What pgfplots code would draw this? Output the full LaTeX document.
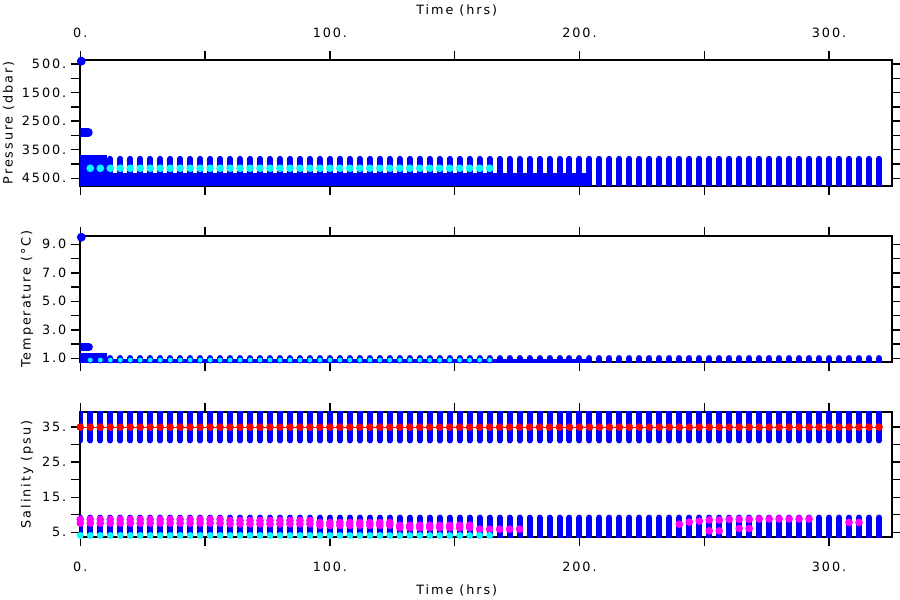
\documentclass[border=0pt]{standalone}
\usepackage{pgfplots}
\pgfplotsset{compat=1.18}
\usepackage{pgfplotstable}
\usepackage{fontspec}
\setmainfont{DejaVu Sans}[LetterSpace=15]
\definecolor{fblue}{RGB}{0,0,255}
\definecolor{fcyan}{RGB}{0,255,255}
\definecolor{fmag}{RGB}{255,0,255}
\definecolor{fred}{RGB}{255,0,0}

% profile bars: t, pressure bar (mid,half), temperature bar, salinity upper bar, salinity lower bar
\pgfplotstableread{
t pm pe tm te um ue lm le
0 4060 240 0.76 0.26 36.1 4.9 5.6 3.6
4 4060 240 0.76 0.26 36.1 4.9 5.6 3.6
8 4060 240 0.76 0.26 36.1 4.9 5.6 3.6
12 4060 240 0.76 0.26 36.1 4.9 5.6 3.6
16 4060 240 0.76 0.26 36.1 4.9 5.6 3.6
20 4060 240 0.76 0.26 36.1 4.9 5.6 3.6
24 4060 240 0.76 0.26 36.1 4.9 5.6 3.6
28 4060 240 0.76 0.26 36.1 4.9 5.6 3.6
32 4060 240 0.76 0.26 36.1 4.9 5.6 3.6
36 4060 240 0.76 0.26 36.1 4.9 5.6 3.6
40 4060 240 0.76 0.26 36.1 4.9 5.6 3.6
44 4060 240 0.76 0.26 36.1 4.9 5.6 3.6
48 4060 240 0.76 0.26 36.1 4.9 5.6 3.6
52 4060 240 0.76 0.26 36.1 4.9 5.6 3.6
56 4060 240 0.76 0.26 36.1 4.9 5.6 3.6
60 4060 240 0.76 0.26 36.1 4.9 5.6 3.6
64 4060 240 0.76 0.26 36.1 4.9 5.6 3.6
68 4060 240 0.76 0.26 36.1 4.9 5.6 3.6
72 4060 240 0.76 0.26 36.1 4.9 5.6 3.6
76 4060 240 0.76 0.26 36.1 4.9 5.6 3.6
80 4060 240 0.76 0.26 36.1 4.9 5.6 3.6
84 4060 240 0.76 0.26 36.1 4.9 5.6 3.6
88 4060 240 0.76 0.26 36.1 4.9 5.6 3.6
92 4060 240 0.76 0.26 36.1 4.9 5.6 3.6
96 4060 240 0.76 0.26 36.1 4.9 5.6 3.6
100 4060 240 0.76 0.26 36.1 4.9 5.6 3.6
104 4060 240 0.76 0.26 36.1 4.9 5.6 3.6
108 4060 240 0.76 0.26 36.1 4.9 5.6 3.6
112 4060 240 0.76 0.26 36.1 4.9 5.6 3.6
116 4060 240 0.76 0.26 36.1 4.9 5.6 3.6
120 4060 240 0.76 0.26 36.1 4.9 5.6 3.6
124 4060 240 0.76 0.26 36.1 4.9 5.6 3.6
128 4060 240 0.76 0.26 36.1 4.9 5.6 3.6
132 4060 240 0.76 0.26 36.1 4.9 5.6 3.6
136 4060 240 0.76 0.26 36.1 4.9 5.6 3.6
140 4060 240 0.76 0.26 36.1 4.9 5.6 3.6
144 4060 240 0.76 0.26 36.1 4.9 5.6 3.6
148 4060 240 0.76 0.26 36.1 4.9 5.6 3.6
152 4060 240 0.76 0.26 36.1 4.9 5.6 3.6
156 4060 240 0.76 0.26 36.1 4.9 5.6 3.6
160 4060 240 0.76 0.26 36.1 4.9 5.6 3.6
164 4060 240 0.76 0.26 36.1 4.9 5.6 3.6
168 4060 240 0.76 0.26 36.1 4.9 5.6 3.6
172 4060 240 0.76 0.26 36.1 4.9 5.6 3.6
176 4060 240 0.76 0.26 36.1 4.9 5.6 3.6
180 4060 240 0.76 0.26 36.1 4.9 5.6 3.6
184 4060 240 0.76 0.26 36.1 4.9 5.6 3.6
188 4060 240 0.76 0.26 36.1 4.9 5.6 3.6
192 4060 240 0.76 0.26 36.1 4.9 5.6 3.6
196 4060 240 0.76 0.26 36.1 4.9 5.6 3.6
200 4060 240 0.76 0.26 36.1 4.9 5.6 3.6
204 4310 490 0.76 0.26 36.1 4.9 5.6 3.6
208 4310 490 0.76 0.26 36.1 4.9 5.6 3.6
212 4310 490 0.76 0.26 36.1 4.9 5.6 3.6
216 4310 490 0.76 0.26 36.1 4.9 5.6 3.6
220 4310 490 0.76 0.26 36.1 4.9 5.6 3.6
224 4310 490 0.76 0.26 36.1 4.9 5.6 3.6
228 4310 490 0.76 0.26 36.1 4.9 5.6 3.6
232 4310 490 0.76 0.26 36.1 4.9 5.6 3.6
236 4310 490 0.76 0.26 36.1 4.9 5.6 3.6
240 4310 490 0.76 0.26 36.1 4.9 5.6 3.6
244 4310 490 0.76 0.26 36.1 4.9 5.6 3.6
248 4310 490 0.76 0.26 36.1 4.9 5.6 3.6
252 4310 490 0.76 0.26 36.1 4.9 5.6 3.6
256 4310 490 0.76 0.26 36.1 4.9 5.6 3.6
260 4310 490 0.76 0.26 36.1 4.9 5.6 3.6
264 4310 490 0.76 0.26 36.1 4.9 5.6 3.6
268 4310 490 0.76 0.26 36.1 4.9 5.6 3.6
272 4310 490 0.76 0.26 36.1 4.9 5.6 3.6
276 4310 490 0.76 0.26 36.1 4.9 5.6 3.6
280 4310 490 0.76 0.26 36.1 4.9 5.6 3.6
284 4310 490 0.76 0.26 36.1 4.9 5.6 3.6
288 4310 490 0.76 0.26 36.1 4.9 5.6 3.6
292 4310 490 0.76 0.26 36.1 4.9 5.6 3.6
296 4310 490 0.76 0.26 36.1 4.9 5.6 3.6
300 4310 490 0.76 0.26 36.1 4.9 5.6 3.6
304 4310 490 0.76 0.26 36.1 4.9 5.6 3.6
308 4310 490 0.76 0.26 36.1 4.9 5.6 3.6
312 4310 490 0.76 0.26 36.1 4.9 5.6 3.6
316 4310 490 0.76 0.26 36.1 4.9 5.6 3.6
320 4310 490 0.76 0.26 36.1 4.9 5.6 3.6
}\bars

% single-level samples: cyan pressure, cyan temperature, cyan salinity, red salinity, magenta salinity (two levels)
\pgfplotstableread{
t cp ct cs red mu ml
0 nan nan 4.1 35 8.7 7.6
4 4150 0.88 4.1 35 8.7 7.6
8 4150 0.88 4.1 35 8.7 7.6
12 4150 0.88 4.1 35 8.7 7.6
16 4150 0.88 4.1 35 8.7 7.6
20 4150 0.88 4.1 35 8.7 7.6
24 4150 0.88 4.1 35 8.7 7.6
28 4150 0.88 4.1 35 8.7 7.6
32 4150 0.88 4.1 35 8.7 7.6
36 4150 0.88 4.1 35 8.7 7.6
40 4150 0.88 4.1 35 8.7 7.6
44 4150 0.88 4.1 35 8.7 7.6
48 4150 0.88 4.1 35 8.7 7.6
52 4150 0.88 4.1 35 8.7 7.6
56 4150 0.88 4.1 35 8.7 7.6
60 4150 0.88 4.1 35 8.4 7.4
64 4150 0.88 4.1 35 8.4 7.4
68 4150 0.88 4.1 35 8.4 7.4
72 4150 0.88 4.1 35 8.4 7.4
76 4150 0.88 4.1 35 8.4 7.4
80 4150 0.88 4.1 35 8.4 7.4
84 4150 0.88 4.1 35 8.4 7.4
88 4150 0.88 4.1 35 8.4 7.4
92 4150 0.88 4.1 35 8.4 7.4
96 4150 0.88 4.1 35 7.8 7.0
100 4150 0.88 4.1 35 7.8 7.0
104 4150 0.88 4.1 35 7.8 7.0
108 4150 0.88 4.1 35 7.8 7.0
112 4150 0.88 4.1 35 7.8 7.0
116 4150 0.88 4.1 35 7.8 7.0
120 4150 0.88 4.1 35 7.8 7.0
124 4150 0.88 4.1 35 7.8 7.0
128 4150 0.88 4.1 35 7.0 6.3
132 4150 0.88 4.1 35 7.0 6.3
136 4150 0.88 4.1 35 7.0 6.3
140 4150 0.88 4.1 35 7.0 6.3
144 4150 0.88 4.1 35 7.0 6.3
148 4150 0.88 4.1 35 7.0 6.3
152 4150 0.88 4.1 35 7.0 6.3
156 4150 0.88 4.1 35 7.0 6.3
160 4150 0.88 4.1 35 5.9 nan
164 4150 0.88 4.1 35 5.9 nan
168 nan nan nan 35 5.9 nan
172 nan nan nan 35 5.9 nan
176 nan nan nan 35 5.9 nan
180 nan nan nan 35 nan nan
184 nan nan nan 35 nan nan
188 nan nan nan 35 nan nan
192 nan nan nan 35 nan nan
196 nan nan nan 35 nan nan
200 nan nan nan 35 nan nan
204 nan nan nan 35 nan nan
208 nan nan nan 35 nan nan
212 nan nan nan 35 nan nan
216 nan nan nan 35 nan nan
220 nan nan nan 35 nan nan
224 nan nan nan 35 nan nan
228 nan nan nan 35 nan nan
232 nan nan nan 35 nan nan
236 nan nan nan 35 nan nan
240 nan nan nan 35 7.3 nan
244 nan nan nan 35 7.9 nan
248 nan nan nan 35 8.2 nan
252 nan nan nan 35 8.5 5.4
256 nan nan nan 35 8.5 5.4
260 nan nan nan 35 8.7 nan
264 nan nan nan 35 8.7 6.1
268 nan nan nan 35 8.7 6.1
272 nan nan nan 35 8.8 nan
276 nan nan nan 35 8.8 nan
280 nan nan nan 35 8.8 nan
284 nan nan nan 35 8.8 nan
288 nan nan nan 35 8.8 nan
292 nan nan nan 35 8.8 nan
296 nan nan nan 35 nan nan
300 nan nan nan 35 nan nan
304 nan nan nan 35 nan nan
308 nan nan nan 35 7.8 nan
312 nan nan nan 35 7.8 nan
316 nan nan nan 35 nan nan
320 nan nan nan 35 nan nan
}\dots

\pgfplotsset{
  ferret/.style={
    scale only axis, width=405.7pt, anchor=north west,
    xmin=0, xmax=325.1,
    xtick={0,100,200,300}, minor xtick={50,150,250},
    tick align=outside, major tick length=4.4pt, minor tick length=4.4pt,
    axis line style={line width=1pt, black},
    tick style={black, line width=0.7pt},
    yticklabel style={xshift=-0.3pt},
    ylabel style={anchor=center},
  },
  barstyle/.style={draw=none, mark=none, forget plot,
    error bars/.cd, y dir=both, y explicit, error mark=none,
    error bar style={draw=fblue, line width=3pt, line cap=round}},
}

\begin{document}
\fontsize{6.4pt}{7.7pt}\selectfont
\begin{tikzpicture}
\useasboundingbox (0,0) rectangle (450pt,-300pt);

% ---------------- Pressure ----------------
\begin{axis}[ferret, at={(40.15pt,-29.85pt)}, height=63pt,
  ymin=350, ymax=4760, y dir=reverse,
  ytick={500,1500,2500,3500,4500}, yticklabels={500.,1500.,2500.,3500.,4500.},
  minor ytick={1000,2000,3000,4000},
  xticklabel pos=upper, xticklabels={0.,100.,200.,300.},
  xticklabel style={yshift=4.5pt},
  xlabel={Time (hrs)},
  xlabel style={at={(axis description cs:0.464,1)}, anchor=center, yshift=24.85pt},
  ylabel={Pressure (dbar)},
  ylabel style={at={(axis description cs:-0.0885,0.5)}},
]
\addplot[fill=fblue, draw=none, forget plot] coordinates {(0,4322) (204,4322) (204,4800) (0,4800)} -- cycle;
\addplot[fill=fblue, draw=none, forget plot] coordinates {(0,3680) (10.6,3680) (10.6,4800) (0,4800)} -- cycle;
\addplot[barstyle] table[x=t, y=pm, y error=pe] {\bars};
\addplot[fblue, line width=4.2pt, line cap=round, forget plot] coordinates {(0,2895) (3.3,2895)};
\addplot[only marks, mark=*, mark size=2pt, fblue] coordinates {(0.4,400)};
\addplot[only marks, mark=*, mark size=1.7pt, fcyan] table[x=t, y=cp] {\dots};
\end{axis}

% ---------------- Temperature ----------------
\begin{axis}[ferret, at={(40.15pt,-117.75pt)}, height=63.4pt,
  ymin=0.72, ymax=9.62,
  ytick={1,3,5,7,9}, yticklabels={1.0,3.0,5.0,7.0,9.0},
  minor ytick={2,4,6,8},
  xticklabels={},
  ylabel={Temperature (\textdegree C)},
  ylabel style={at={(axis description cs:-0.0657,0.5)}},
]
\addplot[fill=fblue, draw=none, forget plot] coordinates {(0,0.5) (204,0.5) (204,0.93) (0,0.93)} -- cycle;
\addplot[fill=fblue, draw=none, forget plot] coordinates {(0,0.5) (10.6,0.5) (10.6,1.35) (0,1.35)} -- cycle;
\addplot[barstyle] table[x=t, y=tm, y error=te] {\bars};
\addplot[fblue, line width=3.85pt, line cap=round, forget plot] coordinates {(0,1.78) (3.5,1.78)};
\addplot[only marks, mark=*, mark size=2pt, fblue] coordinates {(0.4,9.5)};
\addplot[only marks, mark=*, mark size=1.5pt, draw=fblue, fill=fcyan, line width=0.4pt] table[x=t, y=ct] {\dots};
\end{axis}

% ---------------- Salinity ----------------
\begin{axis}[ferret, at={(40.15pt,-205.85pt)}, height=62.8pt,
  ymin=3.57, ymax=39.4,
  ytick={5,15,25,35}, yticklabels={5.,15.,25.,35.},
  minor ytick={10,20,30},
  xticklabels={0.,100.,200.,300.},
  xticklabel style={yshift=-5.4pt},
  xlabel={Time (hrs)},
  xlabel style={at={(axis description cs:0.464,0)}, anchor=center, yshift=-26.35pt},
  ylabel={Salinity (psu)},
  ylabel style={at={(axis description cs:-0.0657,0.5)}},
]
\addplot[barstyle] table[x=t, y=um, y error=ue] {\bars};
\addplot[barstyle] table[x=t, y=lm, y error=le] {\bars};
\addplot[fred, line width=0.4pt, mark=*, mark size=1.7pt] table[x=t, y=red] {\dots};
\addplot[only marks, mark=*, mark size=1.7pt, fmag] table[x=t, y=mu] {\dots};
\addplot[only marks, mark=*, mark size=1.7pt, fmag] table[x=t, y=ml] {\dots};
\addplot[only marks, mark=*, mark size=1.5pt, fcyan] table[x=t, y=cs] {\dots};
\end{axis}
\end{tikzpicture}
\end{document}
